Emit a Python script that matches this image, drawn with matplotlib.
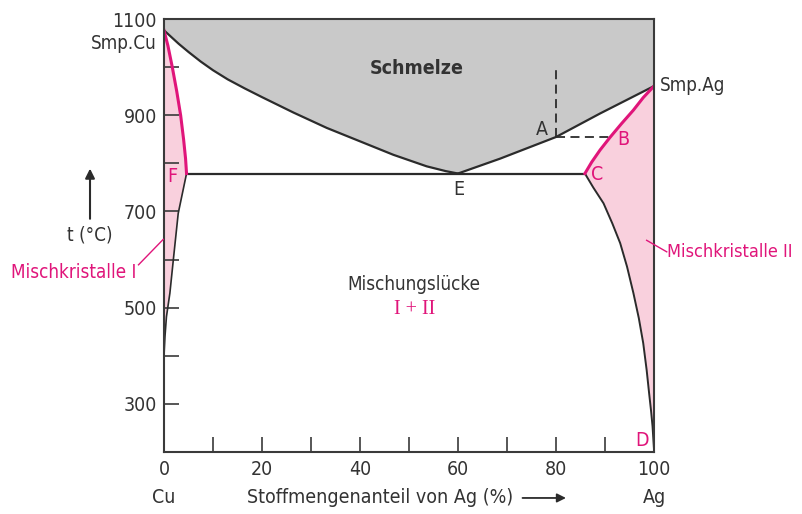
import matplotlib
matplotlib.use("Agg")
import matplotlib.pyplot as plt
import matplotlib.transforms as mtransforms
from matplotlib import font_manager

# pick a narrow sans face if one is available
_faces = font_manager.fontManager.ttflist
_names = {f.name for f in _faces}
if "Liberation Sans Narrow" in _names:
    FAMILY, STRETCH = ["Liberation Sans Narrow", "DejaVu Sans"], "normal"
elif any(f.name == "DejaVu Sans" and "condensed" in str(f.stretch) for f in _faces):
    FAMILY, STRETCH = ["DejaVu Sans"], "condensed"
else:
    FAMILY, STRETCH = ["Roboto", "DejaVu Sans"], "normal"
plt.rcParams['font.family'] = FAMILY
plt.rcParams['font.stretch'] = STRETCH

# Phase boundaries of the Cu-Ag system (x: mol-% Ag, t: degC)
liq_cu_x = [0, 1.5, 3.0, 5.0, 7.5, 10.0, 13.0, 16.5, 20.0, 26.4, 33.2, 40.0, 46.8, 53.6, 57.5, 60.0]
liq_cu_t = [1077, 1063, 1049, 1032, 1012, 994, 975, 956, 938, 906, 874, 846, 818, 794, 784, 779]
liq_ag_x = [60.0, 68.6, 80.0, 89.0, 100]
liq_ag_t = [779, 810, 855, 904, 961]
sol_cu_x = [0, 0.8, 1.7, 2.6, 3.4, 4.0, 4.4, 4.6]
sol_cu_t = [1077, 1045, 1000, 950, 900, 850, 810, 779]
svs_cu_x = [4.6, 2.9, 1.9, 1.2, 0.5, 0.2, 0]
svs_cu_t = [779, 696, 599, 530, 481, 440, 400]
sol_ag_x = [100, 97.8, 95.8, 93.3, 91.0, 89.0, 87.3, 85.9]
sol_ag_t = [961, 937, 911, 882, 854, 828, 803, 779]
svs_ag_x = [85.9, 87.6, 89.7, 91.5, 93.1, 94.5, 95.8, 96.9, 97.8, 98.5, 99.0, 99.4, 99.7, 100]
svs_ag_t = [779, 750, 717, 675, 634, 585, 530, 478, 426, 370, 322, 285, 253, 205]
eutectic_t = 779
point_a = (80.0, 855)
point_b_x = 91.0
tie_top_t = 995

x_ticks = [0, 20, 40, 60, 80, 100]
x_minor = [10, 30, 50, 70, 90]
y_ticks = [300, 500, 700, 900, 1100]
y_minor = [400, 600, 800, 1000]

GREY = "#c9c9c9"
PINK_FILL = "#f9d0dd"
MAGENTA = "#e0157a"
DARK = "#2b2b2b"
TXT = "#333333"
FS = 14       # tick labels, axis captions
FS_T = 13.5   # labels inside the diagram

fig = plt.figure(figsize=(8.03, 5.14), dpi=100)
ax = fig.add_axes([164 / 803, 62.3 / 514, 490 / 803, 432.4 / 514])
ax.set_xlim(0, 100)
ax.set_ylim(200, 1100)

# melt region above the liquidus
melt_x = [0] + liq_cu_x + liq_ag_x[1:] + [100]
melt_t = [1100] + liq_cu_t + liq_ag_t[1:] + [1100]
ax.fill(melt_x, melt_t, color=GREY, lw=0, zorder=1)

# solid solution regions
ax.fill(sol_cu_x + svs_cu_x[1:], sol_cu_t + svs_cu_t[1:], color=PINK_FILL, lw=0, zorder=1)
ax.fill(sol_ag_x + svs_ag_x[1:], sol_ag_t + svs_ag_t[1:], color=PINK_FILL, lw=0, zorder=1)

# boundary lines
ax.plot(liq_cu_x, liq_cu_t, color=DARK, lw=1.6, zorder=3)
ax.plot(liq_ag_x, liq_ag_t, color=DARK, lw=1.6, zorder=3)
ax.plot(svs_cu_x, svs_cu_t, color=DARK, lw=1.2, zorder=3)
ax.plot(svs_ag_x, svs_ag_t, color=DARK, lw=1.4, zorder=3)
ax.plot([sol_cu_x[-1], sol_ag_x[-1]], [eutectic_t, eutectic_t], color=DARK, lw=1.6, zorder=3)
ax.plot(sol_cu_x, sol_cu_t, color=MAGENTA, lw=2.2, zorder=4)
ax.plot(sol_ag_x, sol_ag_t, color=MAGENTA, lw=2.2, zorder=4)

# tie line construction at point A
ax.plot([point_a[0], point_a[0]], [point_a[1], tie_top_t], color=DARK, lw=1.3,
        ls=(0, (5, 3)), zorder=3)
ax.plot([point_a[0], point_b_x], [point_a[1], point_a[1]], color=DARK, lw=1.3,
        ls=(0, (5, 3)), zorder=3)

# axes frame and ticks
for s in ax.spines.values():
    s.set_color("#3a3a3a")
    s.set_linewidth(1.5)
    s.set_zorder(5)
ax.set_xticks(x_ticks)
ax.set_xticks(x_minor, minor=True)
ax.set_yticks(y_ticks)
ax.set_yticks(y_minor, minor=True)
ax.tick_params(which="both", direction="in", length=11, width=1.2, color="#3a3a3a",
               labelcolor=TXT, labelsize=FS)
ax.tick_params(axis="x", which="both", pad=6)
ax.tick_params(axis="y", which="both", pad=5)
# hide the tick coinciding with the top frame
ax.yaxis.get_major_ticks()[-1].tick1line.set_visible(False)

# labels in the diagram
ax.text(51.6, 998, "Schmelze", fontsize=FS_T + 0.5, fontweight="bold", color=TXT,
        ha="center", va="center", zorder=6)
ax.text(50.9, 547, "Mischungslücke", fontsize=FS_T, color=TXT, ha="center", va="center")
ax.text(51.2, 496, "I + II", fontsize=FS_T + 1, color=MAGENTA, ha="center", va="center",
        family=["Liberation Serif", "DejaVu Serif"])
ax.text(77.1, 870, "A", fontsize=FS, color=TXT, ha="center", va="center", zorder=6)
ax.text(93.7, 849, "B", fontsize=FS, color=MAGENTA, ha="center", va="center", zorder=6)
ax.text(88.3, 776, "C", fontsize=FS, color=MAGENTA, ha="center", va="center", zorder=6)
ax.text(1.7, 772, "F", fontsize=FS, color=MAGENTA, ha="center", va="center", zorder=6)
ax.text(60.1, 745, "E", fontsize=FS, color=TXT, ha="center", va="center", zorder=6)
ax.text(97.5, 224, "D", fontsize=FS, color=MAGENTA, ha="center", va="center", zorder=6)

ax.text(-1.6, 1050, "Smp.Cu", fontsize=FS_T, color=TXT, ha="right", va="center", clip_on=False)
ax.text(101.2, 963, "Smp.Ag", fontsize=FS_T, color=TXT, ha="left", va="center", clip_on=False)

# solid solution callouts
ax.plot([-5.2, -0.15], [589, 642], color=MAGENTA, lw=1.0, clip_on=False, zorder=6)
ax.text(-5.6, 574, "Mischkristalle I", fontsize=FS_T, color=MAGENTA, ha="right",
        va="center", clip_on=False)
ax.plot([98.5, 102.6], [640, 616], color=MAGENTA, lw=1.0, clip_on=False, zorder=6)
ax.text(102.7, 616, "Mischkristalle II", fontsize=13, color=MAGENTA, ha="left",
        va="center", clip_on=False)

# temperature axis label with arrow
ax.annotate("", xy=(-15.1, 795), xytext=(-15.1, 679), xycoords="data",
            arrowprops=dict(arrowstyle="-|>", color=DARK, lw=1.5, mutation_scale=14),
            annotation_clip=False)
ax.text(-15.1, 651, "t (°C)", fontsize=FS_T, color=TXT, ha="center", va="center",
        clip_on=False)

# composition axis labels
trans = mtransforms.blended_transform_factory(ax.transData, ax.transAxes)
ax.text(0, -0.107, "Cu", fontsize=FS, color=TXT, ha="center", va="center",
        transform=trans, clip_on=False)
ax.text(100, -0.107, "Ag", fontsize=FS, color=TXT, ha="center", va="center",
        transform=trans, clip_on=False)
ax.text(71.3, -0.107, "Stoffmengenanteil von Ag (%)", fontsize=FS, color=TXT,
        ha="right", va="center", transform=trans, clip_on=False)
ax.annotate("", xy=(82.6, -0.107), xytext=(72.6, -0.107), xycoords=trans,
            arrowprops=dict(arrowstyle="-|>", color=DARK, lw=1.3, mutation_scale=13),
            annotation_clip=False)

fig.savefig("out.png", dpi=100)
